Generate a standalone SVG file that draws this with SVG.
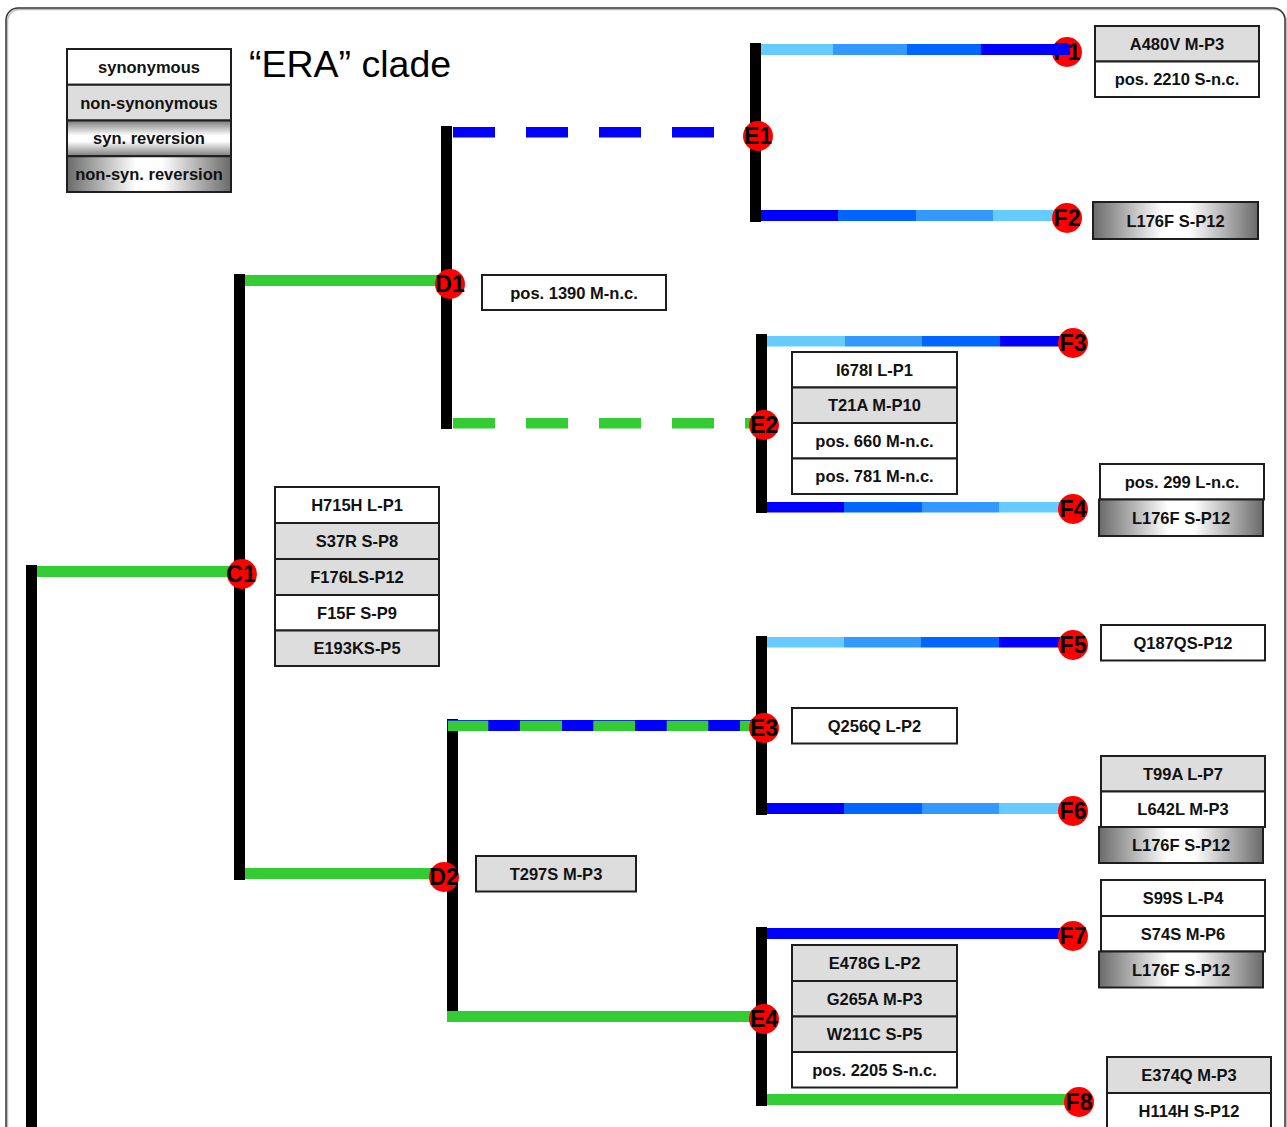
<svg xmlns="http://www.w3.org/2000/svg" width="1287" height="1127" viewBox="0 0 1287 1127">
<defs>
<linearGradient id="revH" x1="0" y1="0" x2="1" y2="0">
<stop offset="0" stop-color="#6a6a6a"/>
<stop offset="0.42" stop-color="#ffffff"/>
<stop offset="0.58" stop-color="#ffffff"/>
<stop offset="1" stop-color="#6a6a6a"/>
</linearGradient>
<linearGradient id="revV" x1="0" y1="0" x2="0" y2="1">
<stop offset="0" stop-color="#7a7a7a"/>
<stop offset="0.42" stop-color="#ffffff"/>
<stop offset="0.58" stop-color="#ffffff"/>
<stop offset="1" stop-color="#7a7a7a"/>
</linearGradient>
</defs>
<style>
.bx{stroke:#1e1e1e;stroke-width:2}
.w{fill:#ffffff}
.g{fill:#dddddd}
.rh{fill:url(#revH)}
.rv{fill:url(#revV)}
.t{font-family:"Liberation Sans",Arial,sans-serif;font-weight:bold;font-size:16.5px;fill:#111;text-anchor:middle}
.nl{font-family:"Liberation Sans",Arial,sans-serif;font-weight:bold;font-size:23px;fill:#000;text-anchor:middle}
.dot{fill:#ff0000}
.k{fill:#000}
.gr{fill:#33cc33}
.b1{fill:#66ccff}
.b2{fill:#3399ff}
.b3{fill:#0066ff}
.b4{fill:#0000ff}
</style>
<rect x="0" y="0" width="1287" height="1127" fill="#ffffff"/>
<rect x="7.5" y="9.5" width="1279" height="1140" rx="12" fill="none" stroke="#bbbbbb" stroke-width="1.5"/>
<rect x="6" y="8" width="1279" height="1140" rx="12" fill="none" stroke="#333333" stroke-width="1.5"/>

<g id="legend">
<rect class="bx w" x="67" y="49" width="164" height="35.75"/>
<text class="t" x="149" y="73">synonymous</text>
<rect class="bx g" x="67" y="84.75" width="164" height="35.75"/>
<text class="t" x="149" y="108.7">non-synonymous</text>
<rect class="bx rv" x="67" y="120.5" width="164" height="35.75"/>
<text class="t" x="149" y="144.4">syn. reversion</text>
<rect class="bx rh" x="67" y="156.25" width="164" height="35.75"/>
<text class="t" x="149" y="180.2">non-syn. reversion</text>
</g>
<text id="title" x="249" y="76.5" font-family="Liberation Sans,Arial,sans-serif" font-size="37.5" fill="#000">“ERA” clade</text>

<g id="connectors">
<rect class="k" x="26" y="565" width="11" height="570"/>
<rect class="k" x="234" y="274" width="11" height="606"/>
<rect class="k" x="441" y="126" width="11" height="303"/>
<rect class="k" x="447" y="719" width="11" height="303"/>
<rect class="k" x="750" y="43" width="11" height="179"/>
<rect class="k" x="756" y="334" width="11" height="179"/>
<rect class="k" x="756" y="636" width="11" height="179"/>
<rect class="k" x="756" y="927" width="11" height="179"/>
<rect class="gr" x="37" y="566" width="197" height="11"/>
<rect class="gr" x="245" y="275" width="196" height="11"/>
<rect class="gr" x="245" y="868" width="190" height="11"/>
<g class="b4">
<rect x="453" y="127" width="42" height="10.5"/>
<rect x="526" y="127" width="42" height="10.5"/>
<rect x="599" y="127" width="42" height="10.5"/>
<rect x="672" y="127" width="42" height="10.5"/>
</g>
<g class="gr">
<rect x="453" y="418" width="42" height="10.5"/>
<rect x="526" y="418" width="42" height="10.5"/>
<rect x="599" y="418" width="42" height="10.5"/>
<rect x="672" y="418" width="42" height="10.5"/>
<rect x="745" y="418" width="11" height="10.5"/>
</g>
<rect class="b4" x="447" y="720" width="310" height="11"/>
<g class="gr">
<rect x="448" y="720.7" width="40.3" height="10.3"/>
<rect x="520" y="720.7" width="42" height="10.3"/>
<rect x="593.3" y="720.7" width="41.7" height="10.3"/>
<rect x="666.7" y="720.7" width="41.6" height="10.3"/>
<rect x="740" y="720.7" width="17" height="10.3"/>
</g>
<rect class="gr" x="447" y="1011" width="310" height="11"/>
<rect class="b1" x="761" y="44" width="72" height="11"/>
<rect class="b2" x="833" y="44" width="74" height="11"/>
<rect class="b3" x="907" y="44" width="74" height="11"/>
<rect class="b4" x="761" y="210" width="77" height="11"/>
<rect class="b3" x="838" y="210" width="78" height="11"/>
<rect class="b2" x="916" y="210" width="77" height="11"/>
<rect class="b1" x="993" y="210" width="62" height="11"/>
<rect class="b1" x="767" y="336" width="78" height="10.5"/>
<rect class="b2" x="845" y="336" width="77" height="10.5"/>
<rect class="b3" x="922" y="336" width="78" height="10.5"/>
<rect class="b4" x="1000" y="336" width="60" height="10.5"/>
<rect class="b4" x="767" y="502" width="77" height="10.5"/>
<rect class="b3" x="844" y="502" width="78" height="10.5"/>
<rect class="b2" x="922" y="502" width="77" height="10.5"/>
<rect class="b1" x="999" y="502" width="61" height="10.5"/>
<rect class="b1" x="767" y="637" width="77" height="10.5"/>
<rect class="b2" x="844" y="637" width="77" height="10.5"/>
<rect class="b3" x="921" y="637" width="78" height="10.5"/>
<rect class="b4" x="999" y="637" width="61" height="10.5"/>
<rect class="b4" x="767" y="803" width="77" height="11"/>
<rect class="b3" x="844" y="803" width="78" height="11"/>
<rect class="b2" x="922" y="803" width="77" height="11"/>
<rect class="b1" x="999" y="803" width="61" height="11"/>
<rect class="b4" x="767" y="928" width="293" height="11"/>
<rect class="gr" x="767" y="1094" width="300" height="11"/>
</g>

<g id="C1"><circle class="dot" cx="242" cy="574" r="15"/><text class="nl" x="241" y="582">C1</text></g>
<g id="D1"><circle class="dot" cx="450" cy="284" r="15"/><text class="nl" x="450" y="292">D1</text></g>
<g id="D2"><circle class="dot" cx="444" cy="877" r="15"/><text class="nl" x="444" y="885">D2</text></g>
<g id="E1"><circle class="dot" cx="758" cy="136" r="15"/><text class="nl" x="758" y="144">E1</text></g>
<g id="E2"><circle class="dot" cx="764" cy="425" r="15"/><text class="nl" x="764" y="433">E2</text></g>
<g id="E3"><circle class="dot" cx="764" cy="728" r="15"/><text class="nl" x="764" y="736">E3</text></g>
<g id="E4"><circle class="dot" cx="764" cy="1019" r="15"/><text class="nl" x="764" y="1027">E4</text></g>
<g id="F1"><circle class="dot" cx="1067" cy="52" r="15"/><text class="nl" x="1067" y="60">F1</text></g>
<g id="F2"><circle class="dot" cx="1067" cy="218" r="15"/><text class="nl" x="1067" y="226">F2</text></g>
<g id="F3"><circle class="dot" cx="1073" cy="343" r="15"/><text class="nl" x="1073" y="351">F3</text></g>
<g id="F4"><circle class="dot" cx="1073" cy="509" r="15"/><text class="nl" x="1073" y="517">F4</text></g>
<g id="F5"><circle class="dot" cx="1073" cy="645" r="15"/><text class="nl" x="1073" y="653">F5</text></g>
<g id="F6"><circle class="dot" cx="1073" cy="811" r="15"/><text class="nl" x="1073" y="819">F6</text></g>
<g id="F7"><circle class="dot" cx="1073" cy="936" r="15"/><text class="nl" x="1073" y="944">F7</text></g>
<g id="F8"><circle class="dot" cx="1079" cy="1102" r="15"/><text class="nl" x="1079" y="1110">F8</text></g>

<g id="connector-F1-tip">
<rect class="b4" x="981" y="44" width="89" height="11"/>
</g>

<g id="box-C1">
<rect class="bx w" x="275" y="487" width="164" height="36"/><text class="t" x="357" y="511">H715H L-P1</text>
<rect class="bx g" x="275" y="523" width="164" height="36"/><text class="t" x="357" y="547">S37R S-P8</text>
<rect class="bx g" x="275" y="559" width="164" height="36"/><text class="t" x="357" y="583">F176LS-P12</text>
<rect class="bx w" x="275" y="595" width="164" height="35.5"/><text class="t" x="357" y="618.7">F15F S-P9</text>
<rect class="bx g" x="275" y="630.5" width="164" height="35.5"/><text class="t" x="357" y="654.3">E193KS-P5</text>
</g>
<g id="box-D1">
<rect class="bx w" x="482" y="275" width="184" height="35"/><text class="t" x="574" y="298.5">pos. 1390 M-n.c.</text>
</g>
<g id="box-D2">
<rect class="bx g" x="476" y="856" width="160" height="35.5"/><text class="t" x="556" y="879.7">T297S M-P3</text>
</g>
<g id="box-F1">
<rect class="bx g" x="1095" y="26" width="164" height="35.5"/><text class="t" x="1177" y="49.7">A480V M-P3</text>
<rect class="bx w" x="1095" y="61.5" width="164" height="35.5"/><text class="t" x="1177" y="85.2">pos. 2210 S-n.c.</text>
</g>
<g id="box-F2">
<rect class="bx rh" x="1093" y="202" width="165" height="37"/><text class="t" x="1175.5" y="226.5">L176F S-P12</text>
</g>
<g id="box-E2">
<rect class="bx w" x="792" y="352" width="165" height="35.5"/><text class="t" x="874.5" y="375.7">I678I L-P1</text>
<rect class="bx g" x="792" y="387.5" width="165" height="35.5"/><text class="t" x="874.5" y="411.2">T21A M-P10</text>
<rect class="bx w" x="792" y="423" width="165" height="35.5"/><text class="t" x="874.5" y="446.7">pos. 660 M-n.c.</text>
<rect class="bx w" x="792" y="458.5" width="165" height="35.5"/><text class="t" x="874.5" y="482.2">pos. 781 M-n.c.</text>
</g>
<g id="box-F4">
<rect class="bx w" x="1100" y="464" width="164" height="35.5"/><text class="t" x="1182" y="487.7">pos. 299 L-n.c.</text>
<rect class="bx rh" x="1099" y="499.5" width="164" height="36.5"/><text class="t" x="1181" y="523.7">L176F S-P12</text>
</g>
<g id="box-F5">
<rect class="bx w" x="1101" y="625" width="164" height="35.5"/><text class="t" x="1183" y="648.7">Q187QS-P12</text>
</g>
<g id="box-E3">
<rect class="bx w" x="792" y="708" width="165" height="35.5"/><text class="t" x="874.5" y="731.7">Q256Q L-P2</text>
</g>
<g id="box-F6">
<rect class="bx g" x="1101" y="756" width="164" height="35.5"/><text class="t" x="1183" y="779.7">T99A L-P7</text>
<rect class="bx w" x="1101" y="791.5" width="164" height="35.5"/><text class="t" x="1183" y="815.2">L642L M-P3</text>
<rect class="bx rh" x="1099" y="827" width="164" height="36"/><text class="t" x="1181" y="851">L176F S-P12</text>
</g>
<g id="box-F7">
<rect class="bx w" x="1101" y="880" width="164" height="36"/><text class="t" x="1183" y="904">S99S L-P4</text>
<rect class="bx w" x="1101" y="916" width="164" height="35.5"/><text class="t" x="1183" y="939.7">S74S M-P6</text>
<rect class="bx rh" x="1099" y="951.5" width="164" height="36"/><text class="t" x="1181" y="975.5">L176F S-P12</text>
</g>
<g id="box-E4">
<rect class="bx g" x="792" y="945" width="165" height="36"/><text class="t" x="874.5" y="969">E478G L-P2</text>
<rect class="bx g" x="792" y="981" width="165" height="35.5"/><text class="t" x="874.5" y="1004.7">G265A M-P3</text>
<rect class="bx g" x="792" y="1016.5" width="165" height="35.5"/><text class="t" x="874.5" y="1040.2">W211C S-P5</text>
<rect class="bx w" x="792" y="1052" width="165" height="35.5"/><text class="t" x="874.5" y="1075.7">pos. 2205 S-n.c.</text>
</g>
<g id="box-F8">
<rect class="bx g" x="1107" y="1057" width="164" height="36"/><text class="t" x="1189" y="1081">E374Q M-P3</text>
<rect class="bx w" x="1107" y="1093" width="164" height="40"/><text class="t" x="1189" y="1117">H114H S-P12</text>
</g>
</svg>
